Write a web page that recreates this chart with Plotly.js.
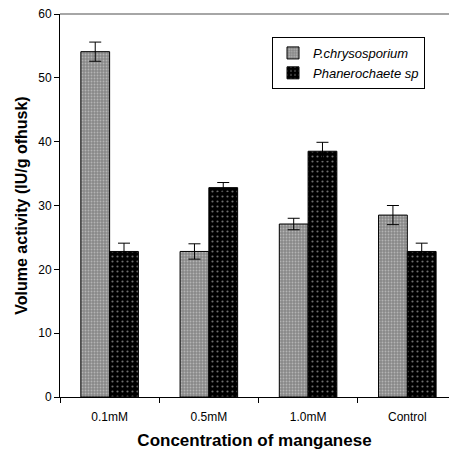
<!DOCTYPE html>
<html><head><meta charset="utf-8">
<script src="https://cdn.plot.ly/plotly-3.0.1.min.js"></script>
<style>body{margin:0;padding:0;background:#fff}#chart{width:449px;height:454px}</style>
</head><body><div id="chart"></div>
<script>
const categories = ["0.1mM", "0.5mM", "1.0mM", "Control"];
const pchrys = [54.1, 22.8, 27.1, 28.5];
const pchrysErr = [1.5, 1.2, 0.9, 1.5];
const phanero = [22.8, 32.8, 38.5, 22.8];
const phaneroErr = [1.3, 0.8, 1.4, 1.3];
const yTicks = [0, 10, 20, 30, 40, 50, 60];

const traces = [
  {type: "bar", name: "P.chrysosporium", x: categories, y: pchrys,
   error_y: {type: "data", array: pchrysErr, visible: true, color: "#000", thickness: 1, width: 6},
   marker: {color: "#8c8c8c", line: {color: "#000", width: 1},
            pattern: {shape: ".", bgcolor: "#888", fgcolor: "#e0e0e0", size: 3, solidity: 0.3, fillmode: "overlay"}}},
  {type: "bar", name: "Phanerochaete sp", x: categories, y: phanero,
   error_y: {type: "data", array: phaneroErr, visible: true, color: "#000", thickness: 1, width: 6},
   marker: {color: "#000", line: {color: "#000", width: 1},
            pattern: {shape: ".", bgcolor: "#000", fgcolor: "#ddd", size: 5, solidity: 0.15, fillmode: "overlay"}}}
];

const layout = {
  width: 449, height: 454,
  margin: {l: 60, r: 0, t: 14, b: 57},
  paper_bgcolor: "#fff", plot_bgcolor: "#fff",
  font: {family: "Arial, Liberation Sans, sans-serif", color: "#000", size: 12},
  barmode: "group", bargap: 0.42, bargroupgap: 0,
  showlegend: true,
  legend: {x: 0.545, y: 0.94, xanchor: "left", yanchor: "top", bgcolor: "#fff",
           bordercolor: "#000", borderwidth: 1,
           font: {size: 13, style: "italic", family: "Arial, Liberation Sans, sans-serif"},
           itemwidth: 30, tracegroupgap: 2},
  xaxis: {type: "category", range: [-0.5, 3.42], tickson: "boundaries", ticks: "outside", ticklen: 5,
          tickcolor: "#000", showline: true, linecolor: "#000", linewidth: 1, showgrid: false,
          tickfont: {size: 12}, ticklabelstandoff: 9,
          title: {text: "Concentration of manganese", font: {size: 17, weight: "bold"}, standoff: 10}},
  yaxis: {range: [0, 60], tickvals: yTicks, ticks: "outside", ticklen: 5, tickcolor: "#000",
          showline: true, linecolor: "#000", linewidth: 1, showgrid: false, zeroline: false,
          tickfont: {size: 12},
          title: {text: "Volume activity (IU/g ofhusk)", font: {size: 16, weight: "bold"}, standoff: 6}},
  shapes: [{type: "line", xref: "paper", yref: "paper", x0: 0, x1: 1, y0: 1, y1: 1,
            line: {color: "#888", width: 1.5}}]
};

Plotly.newPlot("chart", traces, layout, {displayModeBar: false, staticPlot: true});
</script></body></html>
